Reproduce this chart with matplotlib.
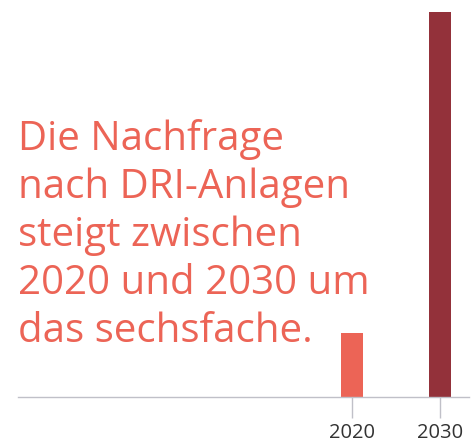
import matplotlib.pyplot as plt

# --- data ---
years = ['2020', '2030']
demand = [1, 6]
bar_colors = ['#ec6456', '#93313a']
headline = 'Die Nachfrage\nnach DRI-Anlagen\nsteigt zwischen\n2020 und 2030 um\ndas sechsfache.'

plt.rcParams['font.family'] = ['Open Sans', 'DejaVu Sans']

W, H = 476, 443
fig = plt.figure(figsize=(W / 100, H / 100), dpi=100)
ax = fig.add_axes([18 / W, 46 / H, (469 - 18) / W, (397 - 12) / H])

pos = list(range(len(years)))
ax.bar(pos, demand, width=0.24, color=bar_colors, zorder=2)

ax.set_xlim(-3.795, 1.33)
ax.set_ylim(0, 6)
ax.set_xticks(pos)
ax.set_xticklabels(years, fontsize=14.5, color='#333333')
ax.tick_params(axis='x', length=15, width=1, color='#c0c0c8', pad=4)
ax.set_yticks([])
for s in ['top', 'right', 'left']:
    ax.spines[s].set_visible(False)
ax.spines['bottom'].set_color('#c0c0c8')
ax.spines['bottom'].set_linewidth(1)
ax.patch.set_alpha(0)

# Headline
fig.text(18 / W, 1 - 119 / H, headline, ha='left', va='top', fontsize=29,
         color='#ec6456', linespacing=1.25)

fig.savefig('out.png', dpi=100)
